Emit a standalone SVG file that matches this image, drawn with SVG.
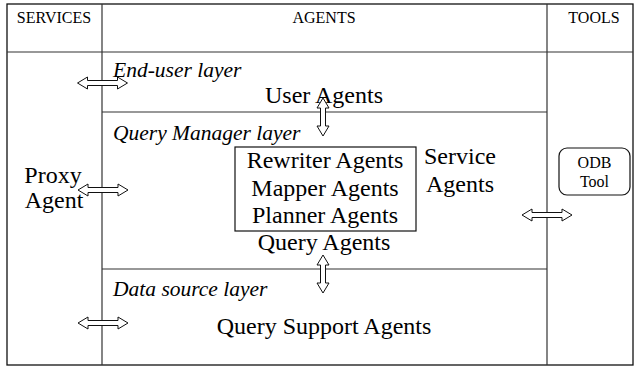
<svg xmlns="http://www.w3.org/2000/svg" width="634" height="366" viewBox="0 0 634 366">
  <defs>
    <style>
      text { font-family: "Liberation Serif", "Tinos", "Times New Roman", "DejaVu Serif", serif; fill: #000; }
      .frame { fill: none; stroke: #111; stroke-width: 1.3; }
      .grid { fill: none; stroke: #333; stroke-width: 1.2; }
      .hdr { font-size: 16px; }
      .big { font-size: 24px; }
      .layer { font-size: 21.5px; font-style: italic; }
      .small { font-size: 16px; }
      .box { fill: #fff; stroke: #111; stroke-width: 1.2; }
      .dbl { fill: #fff; stroke: #111; stroke-width: 1; stroke-linejoin: miter; }
    </style>
    <!-- hollow double-headed arrow, 50 long, centred on the origin -->
    <path id="harrow" d="M -25 0 L -15 -6 L -15 -2.5 L 15 -2.5 L 15 -6 L 25 0 L 15 6 L 15 2.5 L -15 2.5 L -15 6 Z"/>
    <path id="varrow" d="M 0 -19 L -6 -9 L -2.5 -9 L -2.5 9 L -6 9 L 0 19 L 6 9 L 2.5 9 L 2.5 -9 L 6 -9 Z"/>
  </defs>

  <rect width="634" height="366" fill="#fff"/>

  <!-- table frame -->
  <g id="table">
    <rect class="frame" x="7" y="4" width="626" height="361"/>
    <line class="grid" x1="7" y1="52" x2="633" y2="52"/>
    <line class="grid" x1="102" y1="4" x2="102" y2="365"/>
    <line class="grid" x1="547" y1="4" x2="547" y2="365"/>
    <line class="grid" x1="102" y1="112" x2="547" y2="112"/>
    <line class="grid" x1="102" y1="269" x2="547" y2="269"/>
  </g>

  <!-- column headers -->
  <g id="headers">
    <text class="hdr" x="54" y="23" text-anchor="middle">SERVICES</text>
    <text class="hdr" x="324" y="23" text-anchor="middle">AGENTS</text>
    <text class="hdr" x="594" y="23" text-anchor="middle">TOOLS</text>
  </g>

  <!-- layer captions -->
  <g id="layers">
    <text class="layer" x="113" y="77">End-user layer</text>
    <text class="layer" x="113" y="140">Query Manager layer</text>
    <text class="layer" x="113" y="296">Data source layer</text>
  </g>

  <g id="user-agents">
    <text class="big" x="324" y="103" text-anchor="middle">User Agents</text>
  </g>

  <g id="service-agents">
    <rect class="box" x="235" y="147" width="181" height="84"/>
    <text class="big" x="325" y="168" text-anchor="middle">Rewriter Agents</text>
    <text class="big" x="325" y="196" text-anchor="middle">Mapper Agents</text>
    <text class="big" x="325" y="223" text-anchor="middle">Planner Agents</text>
    <text class="big" x="460" y="164" text-anchor="middle">Service</text>
    <text class="big" x="460" y="192" text-anchor="middle">Agents</text>
  </g>

  <g id="query-agents">
    <text class="big" x="324" y="250" text-anchor="middle">Query Agents</text>
  </g>

  <g id="query-support-agents">
    <text class="big" x="324" y="334" text-anchor="middle">Query Support Agents</text>
  </g>

  <g id="proxy-agent">
    <text class="big" x="53" y="183" text-anchor="middle">Proxy</text>
    <text class="big" x="54" y="208" text-anchor="middle">Agent</text>
  </g>

  <g id="odb-tool">
    <rect class="box" x="559" y="148" width="71" height="47" rx="8" ry="8"/>
    <text class="small" x="594.5" y="168" text-anchor="middle">ODB</text>
    <text class="small" x="594.5" y="187" text-anchor="middle">Tool</text>
  </g>

  <!-- connectors -->
  <g id="connectors">
    <use href="#harrow" class="dbl" transform="translate(102.5,83)"/>
    <use href="#harrow" class="dbl" transform="translate(103,190)"/>
    <use href="#harrow" class="dbl" transform="translate(103,323)"/>
    <use href="#harrow" class="dbl" transform="translate(547,215)"/>
    <use href="#varrow" class="dbl" transform="translate(323,117)"/>
    <use href="#varrow" class="dbl" transform="translate(323,274)"/>
  </g>
</svg>
